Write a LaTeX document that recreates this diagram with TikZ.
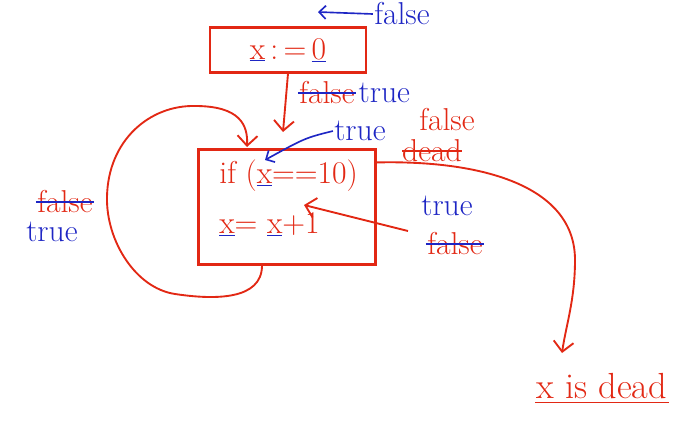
\documentclass[tikz,border=0pt]{standalone}
\usepackage{xcolor}
\usetikzlibrary{arrows.meta, positioning}
\definecolor{ink}{RGB}{226,40,20}
\definecolor{pen}{RGB}{30,38,196}
% red letter, blue underline
\newcommand{\ux}[1]{{\color{pen}\underline{\textcolor{ink}{#1}}}}
\tikzset{
	hand/.style={font=\fontsize{27}{30}\selectfont, inner sep=1pt},
	redtext/.style={hand, text=ink},
	bluetext/.style={hand, text=pen},
	box/.style={draw=ink, line width=1.8pt},
	wire/.style={ink, line width=1.6pt, -{Straight Barb[length=3mm, width=6mm]}},
	penwire/.style={pen, line width=1.4pt, -{Straight Barb[length=2mm, width=4mm]}},
	strike/.style={line width=1.4pt}
}

\begin{document}
\begin{tikzpicture}[x=0.03cm, y=-0.03cm]
	\useasboundingbox (0,0) rectangle (693,421);
	
	% blocks
	\node[box, minimum width=4.68cm, minimum height=1.35cm, text=ink, font=\fontsize{27}{30}\selectfont] (init) at (288,50) {\ux{x}\,:\,=\,\ux{0}};
	\node[box, minimum width=5.31cm, minimum height=3.45cm] (loop) at (287,207) {};
	\node[redtext, anchor=west] (cond) at (218,176) {if (\ux{x}==10)};
	\node[redtext, anchor=west] (incr) at (218,224) {\ux{x}= \ux{x}+1};
	
	\coordinate (in) at (283,132);
	\coordinate (entry) at (247,147);
	\coordinate (exit) at ([yshift=-0.42cm]loop.north east);
	\coordinate (back) at ([xshift=-0.75cm]loop.south);
	\coordinate (hit) at (304,205);
	\coordinate (mark) at (265,160);
	\coordinate (tail) at (408,231);
	\coordinate (down) at (562,353);
	
	% labels
	\node[bluetext] (f0) at (402,14) {false};
	\coordinate (f0tip) at (318,12);
	\node[redtext] (f1) at (327,93) {false};
	\node[bluetext, right=1pt of f1] (t1) {true};
	\node[bluetext] (t2) at (360,131) {true};
	\node[redtext, inner sep=0pt] (f2) at (447,120) {false};
	\node[redtext, inner sep=0pt] (d2) at (432,151) {dead};
	\node[bluetext] (t3) at (447,206) {true};
	\node[redtext] (f3) at (455,244) {false};
	\node[redtext] (f4) at (65,202) {false};
	\node[bluetext] (t4) at (52,232) {true};
	\node[redtext, font=\fontsize{31}{34}\selectfont] (dead) at (602,386) {x is dead};
	
	% crossed out
	\draw[pen, strike] (f1.west) -- (f1.east);
	\draw[pen, strike] (f3.west) -- (f3.east);
	\draw[pen, strike] (f4.west) -- (f4.east);
	\draw[ink, strike] (d2.west) -- (d2.east);
	\draw[ink, line width=1.6pt] ([yshift=-2pt]dead.south west) -- ([yshift=-2pt]dead.south east);
	
	% arrows
	\draw[penwire] (f0.west) -- (f0tip);
	\draw[penwire] (t2.west) .. controls (305,138) .. (mark);
	\draw[wire] (init.south) -- (in);
	\draw[wire] (back) .. controls (262,300) and (215,300) .. (175,294)
		.. controls (135,288) and (106,240) .. (107,197)
		.. controls (108,140) and (150,105) .. (195,106)
		.. controls (240,106) and (248,125) .. (entry);
	\draw[wire] (tail) -- (hit);
	\draw[wire] (exit) .. controls (480,160) and (575,185) .. (575,260)
		.. controls (575,300) and (566,325) .. (down);
\end{tikzpicture}
\end{document}
